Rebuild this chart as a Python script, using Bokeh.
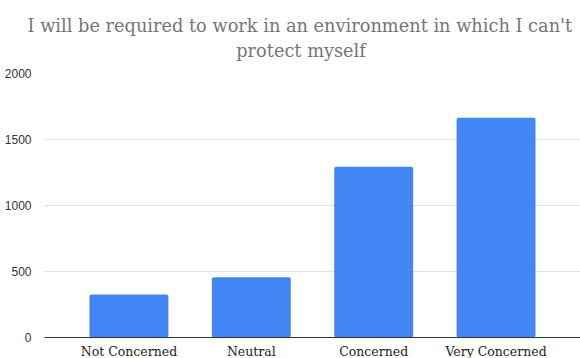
from bokeh.plotting import figure
from bokeh.models import Range1d, FactorRange, Title, FixedTicker
from bokeh.embed import file_html
from bokeh.resources import INLINE

categories = ["Not Concerned", "Neutral", "Concerned", "Very Concerned"]
counts = [325, 457, 1294, 1665]
y_ticks = [0, 500, 1000, 1500, 2000]
title_line1 = "I will be required to work in an environment in which I can't"
title_line2 = "protect myself"

p = figure(frame_width=536, frame_height=264, output_backend="svg", toolbar_location=None,
           x_range=FactorRange(*categories, range_padding=0.19, range_padding_units="absolute"),
           y_range=Range1d(0, 2000),
           min_border_left=44, min_border_right=0, min_border_top=73, min_border_bottom=21)
p.title = None
p.outline_line_color = None

# second line is indented with no-break spaces so that it sits centred under the first
title_text = title_line1 + "\n" + "\u00a0" * 37 + title_line2
t = Title(text=title_text, align="left", offset=-17, text_font="DejaVu Serif",
          text_font_size="17.75px", text_font_style="normal", text_color="#757575",
          standoff=26, text_line_height=1.25)
p.add_layout(t, "above")

p.vbar(x=categories, top=counts, width=0.645, bottom=0, color="#4285F4", line_color=None,
       border_radius=2)

p.yaxis.ticker = FixedTicker(ticks=y_ticks)
p.yaxis.axis_line_color = None
p.yaxis.major_tick_line_color = None
p.yaxis.minor_tick_line_color = None
p.yaxis.major_label_text_font = "Liberation Sans"
p.yaxis.major_label_text_font_size = "12px"
p.yaxis.major_label_text_color = "#333333"
p.yaxis.major_label_standoff = 7

p.xaxis.axis_line_color = "#333333"
p.xaxis.axis_line_width = 1
p.xaxis.major_tick_line_color = None
p.xaxis.minor_tick_line_color = None
p.xaxis.major_label_text_font = "DejaVu Serif"
p.xaxis.major_label_text_font_size = "12.5px"
p.xaxis.major_label_text_color = "#222222"
p.xaxis.major_label_standoff = 0

p.xgrid.grid_line_color = None
p.ygrid.grid_line_color = "#e0e0e0"
p.ygrid.ticker = FixedTicker(ticks=y_ticks)

open("out.html", "w").write(file_html(p, INLINE))
